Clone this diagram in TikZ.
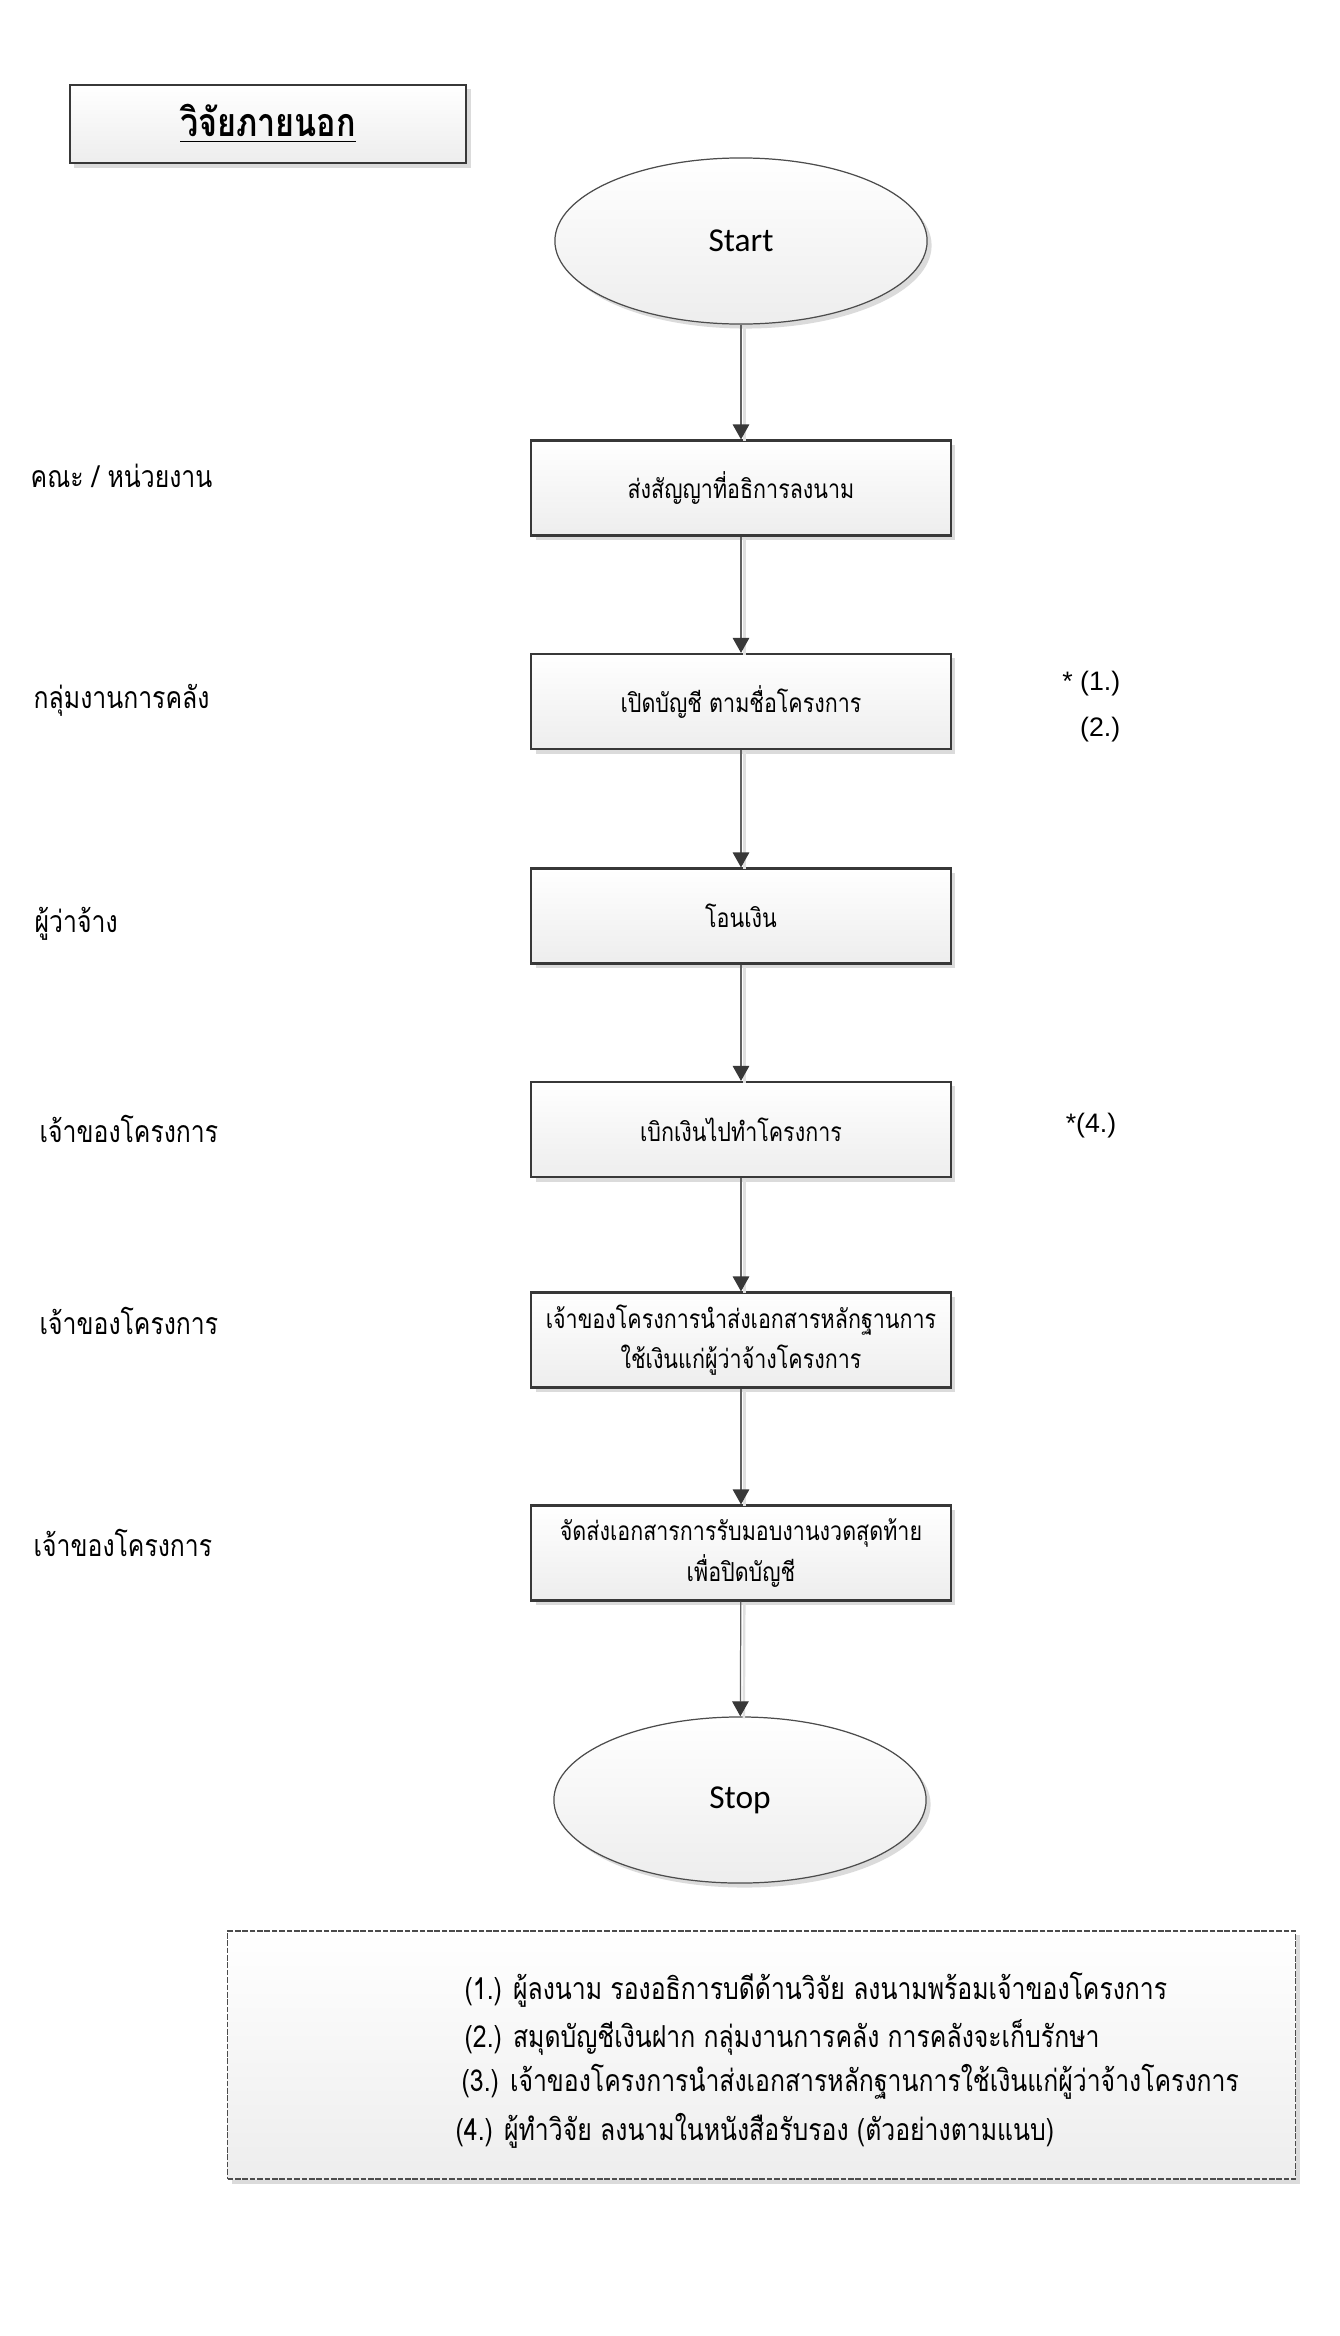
\documentclass[tikz,border=0pt]{standalone}
\usepackage{fontspec}
\setmainfont{Liberation Sans}
\newfontfamily\thaifont[Script=Thai,FakeStretch=0.82]{Loma}
\newfontfamily\calfont{Carlito}
\usetikzlibrary{arrows.meta,shapes.geometric,shadows}
\tikzset{
  shd/.style={drop shadow={shadow xshift=0.045cm,shadow yshift=-0.045cm,fill=black!14,opacity=1}},
  grad/.style={top color=white,bottom color=black!7},
  procbox/.style={shd,grad,draw=black!78,line width=0.6pt,rectangle,minimum width=4.19cm,minimum height=0.95cm,inner sep=0pt,align=center,font=\thaifont\fontsize{7.45}{11.4}\selectfont},
  titlebox/.style={shd,grad,draw=black!78,line width=0.6pt,rectangle,minimum width=3.96cm,minimum height=0.78cm,inner sep=0pt,font=\thaifont\bfseries\fontsize{11.2}{13}\selectfont},
  term/.style={shd,grad,draw=black!70,line width=0.35pt,ellipse,minimum width=3.72cm,minimum height=1.66cm,inner sep=0pt,font=\calfont\fontsize{9.5}{11}\selectfont},
  notebox/.style={shd,grad,draw=black!70,line width=0.4pt,dash pattern=on 1.6pt off 0.5pt,rectangle,minimum width=10.67cm,minimum height=2.48cm,inner sep=0pt},
  lane/.style={anchor=west,inner sep=0pt,font=\thaifont\fontsize{8.6}{10}\selectfont},
  annot/.style={anchor=east,inner sep=0pt,font=\fontsize{7.6}{9}\selectfont},
  noteline/.style={anchor=west,inner sep=0pt,font=\thaifont\fontsize{8.6}{10}\selectfont},
  flow/.style={draw=black!62,line width=0.35pt,-{Triangle[length=0.15cm,width=0.165cm,color=black!78]},
    preaction={draw=black!12,line width=0.7pt,-,transform canvas={shift={(0.035cm,-0.02cm)}}}}
}
\begin{document}
\begin{tikzpicture}[x=0.01cm,y=-0.01cm]
\useasboundingbox (0,0) rectangle (1340,2336);
\node[titlebox] (title) at (268,124) {\underline{วิจัยภายนอก}};
\node[term] (start) at (741,241) {Start};
\node[procbox] (b1) at (741,488) {ส่งสัญญาที่อธิการลงนาม};
\node[procbox] (b2) at (741,701.5) {เปิดบัญชี ตามชื่อโครงการ};
\node[procbox] (b3) at (741,916) {โอนเงิน};
\node[procbox] (b4) at (741,1129.5) {เบิกเงินไปทำโครงการ};
\node[procbox] (b5) at (741,1340) {เจ้าของโครงการนำส่งเอกสารหลักฐานการ\\ใช้เงินแก่ผู้ว่าจ้างโครงการ};
\node[procbox] (b6) at (741,1553) {จัดส่งเอกสารการรับมอบงานงวดสุดท้าย\\เพื่อปิดบัญชี};
\node[term] (stop) at (740,1800) {Stop};
\draw[flow] (start) -- (b1);
\draw[flow] (b1) -- (b2);
\draw[flow] (b2) -- (b3);
\draw[flow] (b3) -- (b4);
\draw[flow] (b4) -- (b5);
\draw[flow] (b5) -- (b6);
\draw[flow] (b6) -- (stop);
\node[lane] (l1) at (30,476) {คณะ / หน่วยงาน};
\node[lane] (l2) at (33,700) {กลุ่มงานการคลัง};
\node[lane] (l3) at (34,924) {ผู้ว่าจ้าง};
\node[lane] (l4) at (39,1129) {เจ้าของโครงการ};
\node[lane] (l5) at (39,1321) {เจ้าของโครงการ};
\node[lane] (l6) at (33,1543) {เจ้าของโครงการ};
\node[annot] (m1) at (1121,684) {* (1.)};
\node[annot] (m2) at (1121,730) {(2.)};
\node[annot] (m4) at (1117,1126) {*(4.)};
\node[notebox] (note) at (761.5,2055) {};
\node[noteline] (n1) at (464,1990) {(1.) ผู้ลงนาม รองอธิการบดีด้านวิจัย ลงนามพร้อมเจ้าของโครงการ};
\node[noteline] (n2) at (464,2037) {(2.) สมุดบัญชีเงินฝาก กลุ่มงานการคลัง การคลังจะเก็บรักษา};
\node[noteline] (n3) at (461,2082) {(3.) เจ้าของโครงการนำส่งเอกสารหลักฐานการใช้เงินแก่ผู้ว่าจ้างโครงการ};
\node[noteline] (n4) at (455,2131) {(4.) ผู้ทำวิจัย ลงนามในหนังสือรับรอง (ตัวอย่างตามแนบ)};
\end{tikzpicture}
\end{document}
